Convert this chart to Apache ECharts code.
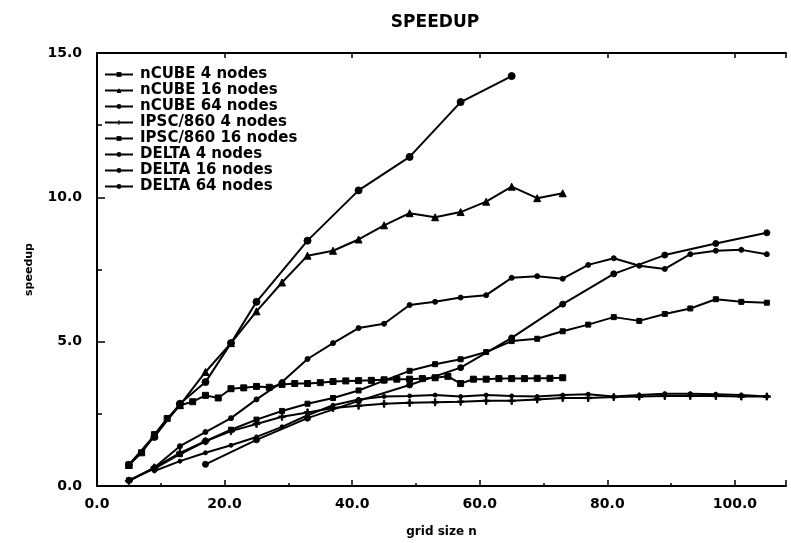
<!DOCTYPE html>
<html>
<head>
<meta charset="utf-8">
<script src="https://cdn.jsdelivr.net/npm/echarts@6/dist/echarts.min.js"></script>
<style>html,body{margin:0;padding:0;background:#fff}#c{width:791px;height:543px}</style>
</head>
<body>
<div id="c"></div>
<script>
// ---- data ----
const seriesNames = ['nCUBE 4 nodes','nCUBE 16 nodes','nCUBE 64 nodes','IPSC/860 4 nodes','IPSC/860 16 nodes','DELTA 4 nodes','DELTA 16 nodes','DELTA 64 nodes'];
const xTicks = [0, 20, 40, 60, 80, 100];
const yTicks = [0, 5, 10, 15];

const nCube4X = [5,7,9,11,13,15,17,19,21,23,25,27,29,31,33,35,37,39,41,43,45,47,49,51,53,55,57,59,61,63,65,67,69,71,73];
const nCube4Y = [0.73,1.15,1.78,2.34,2.8,2.92,3.14,3.05,3.37,3.4,3.45,3.42,3.52,3.55,3.55,3.58,3.62,3.64,3.65,3.66,3.68,3.7,3.7,3.72,3.75,3.8,3.55,3.7,3.7,3.72,3.72,3.72,3.73,3.73,3.75];

const nCube16X = [5,9,13,17,21,25,29,33,37,41,45,49,53,57,61,65,69,73];
const nCube16Y = [0.73,1.75,2.8,3.95,4.95,6.05,7.05,7.98,8.15,8.54,9.03,9.45,9.31,9.49,9.85,10.37,9.97,10.14];

const nCube64X = [5,9,13,17,21,25,33,41,49,57,65];
const nCube64Y = [0.73,1.7,2.85,3.6,4.95,6.38,8.5,10.24,11.4,13.3,14.2];

const ipsc4X = [5,9,13,17,21,25,29,33,37,41,45,49,53,57,61,65,69,73,77,81,85,89,93,97,101,105];
const ipsc4Y = [0.18,0.64,1.15,1.55,1.9,2.15,2.4,2.55,2.7,2.78,2.85,2.88,2.9,2.92,2.95,2.95,3.0,3.05,3.05,3.08,3.1,3.12,3.12,3.12,3.1,3.1];

const ipsc16X = [5,9,13,17,21,25,29,33,37,41,45,49,53,57,61,65,69,73,77,81,85,89,93,97,101,105];
const ipsc16Y = [0.2,0.6,1.1,1.55,1.95,2.3,2.6,2.85,3.05,3.31,3.65,3.99,4.22,4.39,4.64,5.02,5.1,5.36,5.59,5.85,5.72,5.96,6.15,6.47,6.38,6.35];

const delta4X = [9,13,17,21,25,29,33,37,41,45,49,53,57,61,65,69,73,77,81,85,89,93,97,101,105];
const delta4Y = [0.52,0.86,1.15,1.41,1.7,2.05,2.45,2.8,3.0,3.1,3.12,3.15,3.1,3.15,3.12,3.1,3.15,3.18,3.1,3.15,3.2,3.2,3.18,3.15,3.1];

const delta16X = [5,9,13,17,21,25,29,33,37,41,45,49,53,57,61,65,69,73,77,81,85,89,93,97,101,105];
const delta16Y = [0.18,0.64,1.38,1.87,2.35,3.0,3.6,4.4,4.95,5.47,5.62,6.27,6.38,6.53,6.61,7.21,7.27,7.18,7.66,7.89,7.63,7.52,8.03,8.15,8.18,8.03];

const delta64X = [17,25,33,41,49,57,65,73,81,89,97,105];
const delta64Y = [0.75,1.6,2.35,2.95,3.5,4.1,5.13,6.3,7.35,8.0,8.4,8.77];

// ---- build chart ----
const FONT = 'DejaVu Sans';
const plusPath = 'path://M0,4L10,4L10,6L0,6Z M4,0L6,0L6,10L4,10Z';
function pairs(xs, ys){ return xs.map((x,i)=>[x, ys[i]]); }
const defs = [
  {x:nCube4X, y:nCube4Y, sym:'rect', size:6},
  {x:nCube16X, y:nCube16Y, sym:'triangle', size:7},
  {x:nCube64X, y:nCube64Y, sym:'circle', size:7},
  {x:ipsc4X, y:ipsc4Y, sym:plusPath, size:7},
  {x:ipsc16X, y:ipsc16Y, sym:'rect', size:5},
  {x:delta4X, y:delta4Y, sym:'circle', size:4},
  {x:delta16X, y:delta16Y, sym:'circle', size:5},
  {x:delta64X, y:delta64Y, sym:'circle', size:6}
];
const series = defs.map((d,i)=>({
  name: seriesNames[i], type:'line', data: pairs(d.x,d.y),
  symbol: d.sym, symbolSize: d.size, showAllSymbol:true,
  lineStyle:{color:'#000', width:2}, itemStyle:{color:'#000', borderColor:'#000'},
  animation:false, z: 3
}));

const chart = echarts.init(document.getElementById('c'), null, {renderer:'canvas'});
chart.setOption({
  backgroundColor:'#fff',
  animation:false,
  title:{text:'SPEEDUP', left:430, top:9, textAlign:'center',
    textStyle:{fontFamily:FONT, fontSize:17, fontWeight:'bold', color:'#000'}},
  legend:{orient:'vertical', left:104, top:67, padding:0, itemWidth:28, itemHeight:6, itemGap:1,
    textStyle:{fontFamily:FONT, fontSize:15, lineHeight:14, fontWeight:'bold', color:'#000', padding:[0,0,0,2]},
    data: seriesNames},
  grid:{left:97, right:5, top:53, bottom:51},
  xAxis:[{
    type:'value', min:0, max:108, interval:20, position:'bottom',
    name:'grid size n', nameLocation:'middle', nameGap:40,
    nameTextStyle:{fontFamily:FONT, fontSize:12, fontWeight:'bold', color:'#000'},
    axisLine:{show:true, onZero:false, lineStyle:{color:'#000', width:2}},
    axisTick:{show:true, inside:true, length:6, lineStyle:{color:'#000', width:1.5}},
    minorTick:{show:true, splitNumber:2, length:3, lineStyle:{color:'#000', width:1.5}},
    axisLabel:{formatter:v=>xTicks.includes(v)?v.toFixed(1):'', margin:11,
      fontFamily:FONT, fontSize:14, fontWeight:'bold', color:'#000'},
    splitLine:{show:false}
  },{
    type:'value', min:0, max:108, interval:20, position:'top',
    axisLine:{show:true, onZero:false, lineStyle:{color:'#000', width:2}},
    axisTick:{show:true, inside:true, length:5, lineStyle:{color:'#000', width:1.5}},
    axisLabel:{show:false}, splitLine:{show:false}
  }],
  yAxis:{
    type:'value', min:0, max:15, interval:5,
    name:'speedup', nameLocation:'middle', nameGap:62,
    nameTextStyle:{fontFamily:FONT, fontSize:11, fontWeight:'bold', color:'#000'},
    axisLine:{show:true, lineStyle:{color:'#000', width:2}},
    axisTick:{show:true, inside:true, length:8, lineStyle:{color:'#000', width:1.5}},
    minorTick:{show:true, splitNumber:2, length:5, lineStyle:{color:'#000', width:1.5}},
    axisLabel:{formatter:v=>yTicks.includes(v)?v.toFixed(1):'', margin:15,
      fontFamily:FONT, fontSize:14, fontWeight:'bold', color:'#000'},
    splitLine:{show:false}
  },
  series: series
});
</script>
</body>
</html>
